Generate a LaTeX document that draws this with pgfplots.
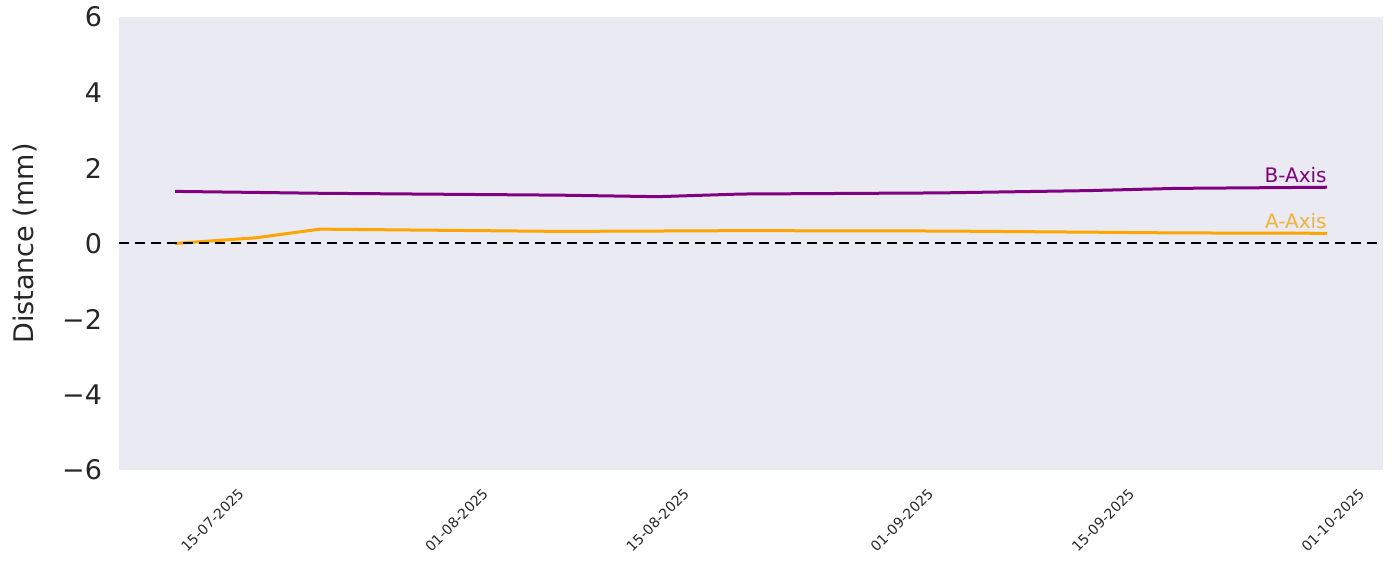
\documentclass[border=0pt]{standalone}
\usepackage{pgfplots}
\pgfplotsset{compat=1.18}
\usepackage{fontspec}
\setmainfont{DejaVu Sans}
\definecolor{bgc}{HTML}{EAEAF2}
\definecolor{purp}{HTML}{800080}
\definecolor{orng}{HTML}{FFA500}
\definecolor{orngtxt}{HTML}{F2B33A}
\begin{document}
\begin{tikzpicture}
\begin{axis}[
  name=ax,
  at={(0,0)}, anchor=south west,
  scale only axis,
  width=632bp, height=226.5bp,
  xmin=-6.5, xmax=81.5,
  ymin=-6, ymax=6,
  ytick={-6,-4,-2,0,2,4,6},
  yticklabels={−6,−4,−2,0,2,4,6},
  xtick={0,17,31,48,62,78},
  xticklabels={15-07-2025,01-08-2025,15-08-2025,01-09-2025,15-09-2025,01-10-2025},
  axis background/.style={fill=bgc},
  axis line style={draw=none},
  major tick length=0pt,
  /pgf/number format/assume math mode=true,
  yticklabel style={font=\fontsize{13.5bp}{15bp}\selectfont, xshift=-5bp, text=black!85},
  xticklabel style={font=\fontsize{7bp}{8bp}\selectfont, yshift=-25bp, rotate=45, anchor=center, text=black!85},
  every axis y label/.style={at={(axis description cs:0,0.5)}, xshift=-47bp, rotate=90, anchor=center, font=\fontsize{13.5bp}{15bp}\selectfont, text=black!85},
  ylabel={Distance (mm)},
  clip=false,
]
\addplot[purp, line width=1.5bp] coordinates {
 (-2.6,1.38) (7.5,1.33) (24.2,1.28) (31,1.24) (36.8,1.31) (50.7,1.34) (60.9,1.40) (67.2,1.46) (77.6,1.49)
};
\addplot[orng, line width=1.5bp] coordinates {
 (-2.6,0.0) (3.0,0.15) (7.5,0.38) (24.2,0.32) (31,0.33) (36.8,0.34) (50.7,0.33) (60.9,0.30) (67.2,0.28) (77.6,0.27)
};
\addplot[black, line width=1bp, dash pattern=on 5bp off 3bp] coordinates {(-6.5,0) (81.5,0)};
\node[anchor=base east, text=purp, inner sep=0pt, font=\fontsize{10bp}{11bp}\selectfont] at (axis cs:77.6,1.49) [yshift=2.5bp] {B-Axis};
\node[anchor=base east, text=orngtxt, inner sep=0pt, font=\fontsize{10bp}{11bp}\selectfont] at (axis cs:77.6,0.27) [yshift=2.5bp] {A-Axis};
\end{axis}
\path ([xshift=-59.5bp,yshift=-56.5bp]ax.south west) rectangle ([xshift=4.5bp,yshift=8.5bp]ax.north east);
\end{tikzpicture}
\end{document}
